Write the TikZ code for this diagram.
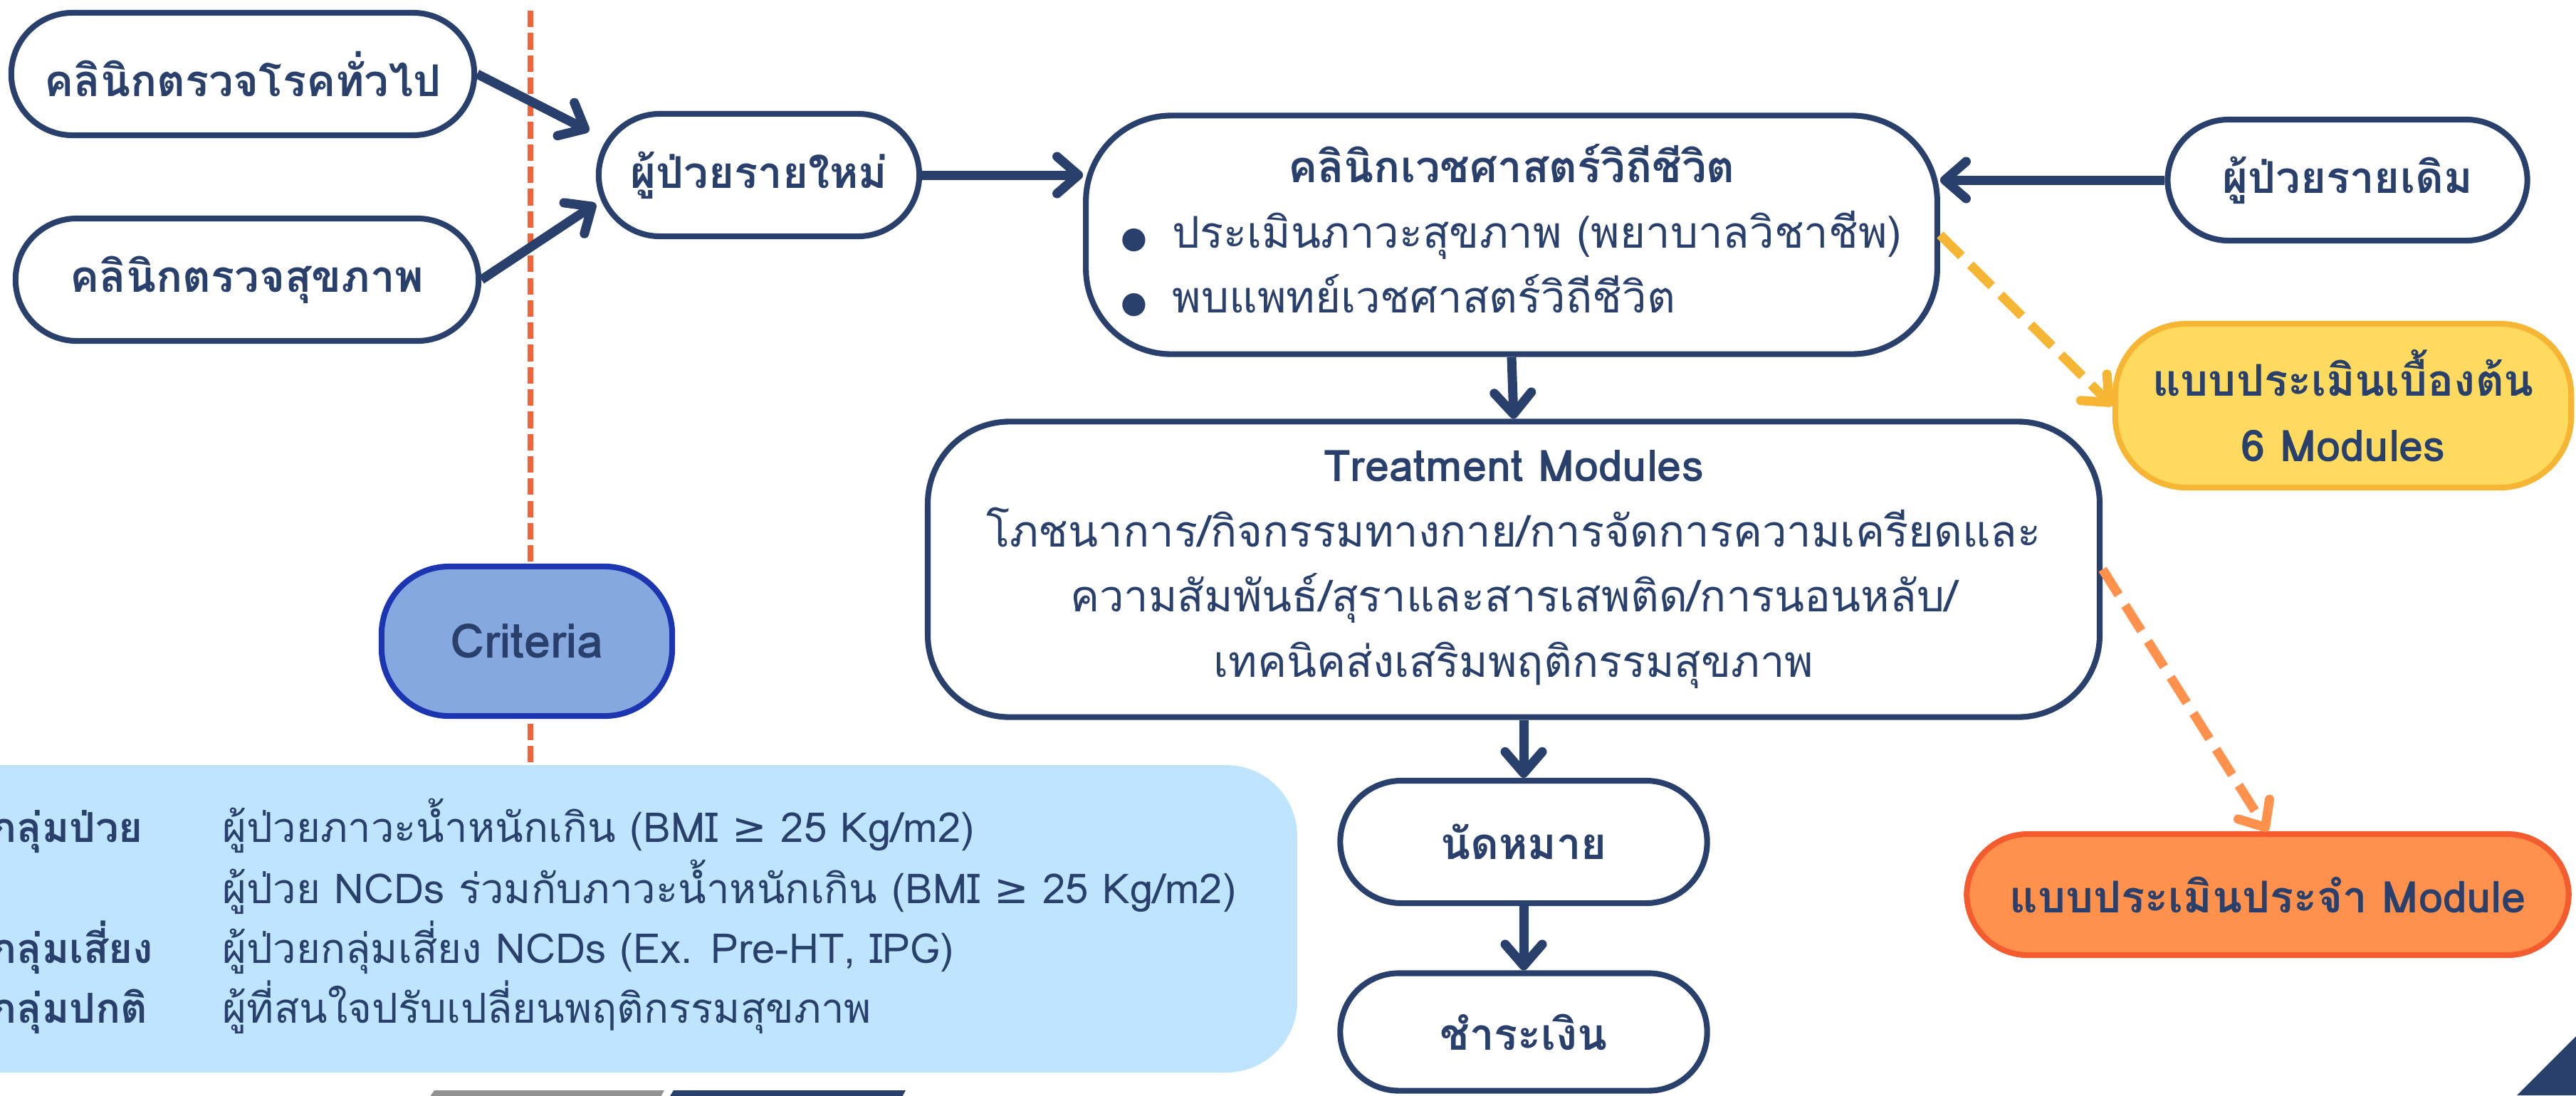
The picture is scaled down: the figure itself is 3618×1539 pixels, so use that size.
\documentclass[tikz,border=0pt]{standalone}
\usepackage{fontspec}
\setmainfont[Script=Thai]{Loma}
\newfontfamily\symfont{DejaVu Sans}
\usetikzlibrary{arrows.meta}

\definecolor{navy}{HTML}{28406B}
\definecolor{critfill}{HTML}{85A8DF}
\definecolor{critline}{HTML}{1B36B0}
\definecolor{panelblue}{HTML}{BFE4FE}
\definecolor{initfill}{HTML}{FEDB5E}
\definecolor{initline}{HTML}{F6B533}
\definecolor{modfill}{HTML}{FF914D}
\definecolor{modline}{HTML}{F45B2E}
\definecolor{guidered}{HTML}{F4623A}
\definecolor{bargray}{HTML}{929292}

\newcommand{\dotmark}{{\symfont\fontsize{12}{12}\selectfont ●}}

\tikzset{
  pill/.style={draw=navy, line width=2.3pt, fill=white, text=navy, align=center,
    rounded corners=#1, inner sep=0pt, font=\bfseries\fontsize{17.5}{26}\selectfont},
  pill/.default=0.86cm,
  flow/.style={navy, line width=3.7pt, -{Straight Barb[round,length=3mm,width=5.2mm]}},
  hint/.style={line width=3.7pt, dash pattern=on 12pt off 5pt,
    -{Straight Barb[round,length=3mm,width=5.2mm]}}
}

\begin{document}
\begin{tikzpicture}[x=0.01cm, y=-0.01cm]
\useasboundingbox (0,0) rectangle (3618,1539);

% dashed guide line, left of the flow
\draw[guidered, line width=2.3pt, dash pattern=on 6.6pt off 2.3pt] (745,15) -- (745,1080);

% criteria panel
\fill[panelblue, rounded corners=1cm] (-150,1075) rectangle (1822,1507);
\node[anchor=west, text=navy, inner sep=0pt, font=\fontsize{16.5}{23.3}\selectfont] (groups) at (-12,1292) {%
  \begin{tabular}{@{}p{3.24cm}@{}l@{}}
  \textbf{กลุ่มป่วย} & ผู้ป่วยภาวะน้ำหนักเกิน (BMI {\symfont ≥} 25 Kg/m2)\\
   & ผู้ป่วย NCDs ร่วมกับภาวะน้ำหนักเกิน (BMI {\symfont ≥} 25 Kg/m2)\\
  \textbf{กลุ่มเสี่ยง} & ผู้ป่วยกลุ่มเสี่ยง NCDs (Ex. Pre-HT, IPG)\\
  \textbf{กลุ่มปกติ} & ผู้ที่สนใจปรับเปลี่ยนพฤติกรรมสุขภาพ
  \end{tabular}};

\node[pill=0.95cm, draw=critline, fill=critfill, minimum width=4.08cm, minimum height=2.1cm,
  font=\bfseries\fontsize{19}{26}\selectfont] (criteria) at (740,901) {Criteria};

% entry clinics
\node[pill, minimum width=6.5cm, minimum height=1.72cm] (genclinic) at (341,104) {คลินิกตรวจโรคทั่วไป};
\node[pill, minimum width=6.5cm, minimum height=1.72cm] (checkup) at (347,393) {คลินิกตรวจสุขภาพ};
\node[pill, minimum width=4.5cm, minimum height=1.72cm] (newpt) at (1066,246) {ผู้ป่วยรายใหม่};
\node[pill, minimum width=5.05cm, minimum height=1.7cm] (oldpt) at (3297,253) {ผู้ป่วยรายเดิม};

% main flow
\node[pill=1.2cm, minimum width=11.95cm, minimum height=3.35cm] (lifeclinic) at (2123,330) {%
  \begin{tabular}{@{}l@{}}
  \multicolumn{1}{c}{คลินิกเวชศาสตร์วิถีชีวิต}\\
  \mdseries\dotmark\hspace{0.35cm}ประเมินภาวะสุขภาพ (พยาบาลวิชาชีพ)\\
  \mdseries\dotmark\hspace{0.35cm}พบแพทย์เวชศาสตร์วิถีชีวิต
  \end{tabular}};
\node[pill=1.15cm, minimum width=16.45cm, minimum height=4.15cm] (treat) at (2126,800) {%
  Treatment Modules\\
  \mdseries โภชนาการ/กิจกรรมทางกาย/การจัดการความเครียดและ\\
  \mdseries ความสัมพันธ์/สุราและสารเสพติด/การนอนหลับ/\\
  \mdseries เทคนิคส่งเสริมพฤติกรรมสุขภาพ};
\node[pill, minimum width=5.15cm, minimum height=1.72cm] (appoint) at (2140,1183) {นัดหมาย};
\node[pill=0.82cm, minimum width=5.15cm, minimum height=1.65cm] (payment) at (2140,1450) {ชำระเงิน};

% evaluations
\node[pill=1cm, draw=initline, fill=initfill, minimum width=6.4cm, minimum height=2.3cm] (initeval) at (3291,570) {แบบประเมินเบื้องต้น\\6 Modules};
\node[pill, draw=modline, fill=modfill, minimum width=8.45cm, minimum height=1.7cm] (moduleeval) at (3185,1257) {แบบประเมินประจำ Module};

% connectors
\draw[flow, shorten >=3pt] (genclinic.east) -- (newpt.166);
\draw[flow] (checkup.east) -- (newpt.190);
\draw[flow] (newpt.east) -- (newpt.east -| lifeclinic.west);
\draw[flow] (oldpt.west) -- (oldpt.west -| lifeclinic.east);
\draw[flow] (lifeclinic.south) -- (treat.north);
\draw[flow] (appoint.north |- treat.south) -- (appoint.north);
\draw[flow] (appoint.south) -- (payment.north);
\draw[hint, initline] (lifeclinic.east) -- (initeval.west);
\draw[hint, modfill] (treat.east) -- (moduleeval.north);

% slide decorations
\fill[bargray] (601,1545) -- (610,1532) -- (933,1532) -- (926,1545) -- cycle;
\fill[navy] (938,1545) -- (946,1532) -- (1272,1532) -- (1265,1545) -- cycle;
\fill[navy] (3535,1539) -- (3618,1456) -- (3618,1539) -- cycle;
\end{tikzpicture}
\end{document}
